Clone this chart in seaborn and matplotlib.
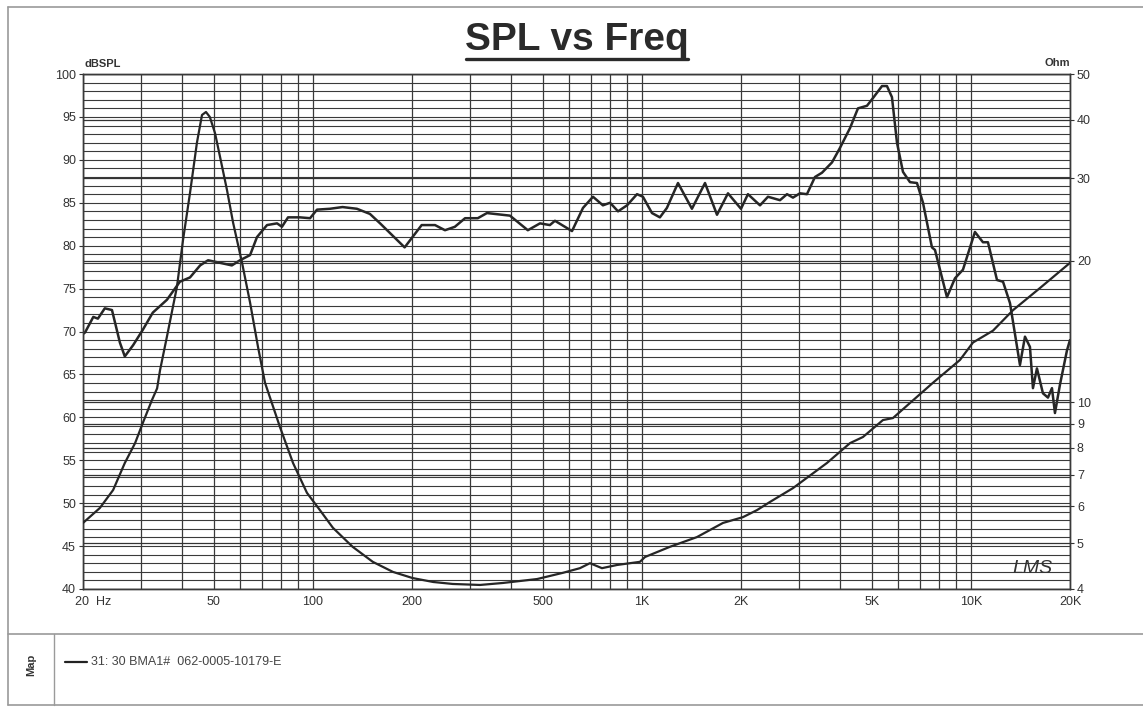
import numpy as np
import pandas as pd
import matplotlib
matplotlib.use("Agg")
import matplotlib.pyplot as plt
import matplotlib.transforms as mtransforms
from matplotlib.ticker import FixedLocator, NullLocator
from matplotlib.lines import Line2D
import seaborn as sns

# SPL curve (Hz, dB)
spl_freq = [20, 20.3, 21.5, 22.2, 23.3, 24.5, 25.9, 26.8, 28.4, 30.4, 32.6, 36.0, 39.4, 42.3,
            45.4, 48.0, 52.2, 56.7, 60, 64.4, 67.6, 72.5, 77.8, 80.5, 84, 91.3, 98, 102.9,
            112.7, 123, 136, 149, 160, 190, 214, 235, 252, 270, 290, 317, 338, 397, 450,
            490, 525, 544, 613, 662, 710, 761, 800, 846, 901, 966, 1007, 1073, 1134, 1191,
            1287, 1419, 1555, 1691, 1826, 2000, 2100, 2285, 2416, 2628, 2760, 2878, 3022,
            3174, 3357, 3526, 3782, 4000, 4290, 4536, 4831, 5038, 5367, 5556, 5754, 5960,
            6215, 6528, 6855, 7150, 7613, 7776, 8456, 8944, 9457, 10285, 10878, 11266,
            12002, 12518, 13146, 14094, 14598, 15116, 15436, 15874, 16554, 17144, 17632,
            18006, 18646, 19586, 20000]
spl_db = [69.7, 69.9, 71.7, 71.5, 72.7, 72.5, 68.7, 67.1, 68.4, 70.2, 72.2, 73.7, 75.8, 76.3,
          77.7, 78.3, 78.0, 77.7, 78.3, 78.9, 81.0, 82.4, 82.6, 82.2, 83.3, 83.3, 83.2, 84.2,
          84.3, 84.5, 84.3, 83.7, 82.6, 79.8, 82.4, 82.4, 81.8, 82.2, 83.2, 83.2, 83.8,
          83.5, 81.8, 82.6, 82.4, 82.9, 81.7, 84.4, 85.7, 84.7, 85.0, 84.0, 84.7, 86.0,
          85.7, 83.8, 83.3, 84.4, 87.3, 84.3, 87.3, 83.6, 86.1, 84.3, 86.0, 84.7, 85.7,
          85.3, 86.0, 85.6, 86.1, 86.0, 88.0, 88.5, 89.7, 91.4, 93.7, 96.0, 96.3, 97.2,
          98.6, 98.6, 97.3, 92.0, 88.6, 87.4, 87.3, 85.0, 79.8, 79.5, 74.0, 76.2, 77.2,
          81.6, 80.4, 80.4, 76.0, 75.8, 73.3, 66.1, 69.4, 68.2, 63.4, 65.7, 62.8, 62.3,
          63.4, 60.5, 63.8, 67.8, 69.0]

# impedance curve (Hz, Ohm)
imp_freq = [20, 22.5, 24.7, 26.8, 28.8, 30.4, 32.4, 33.6, 34.3, 36.0, 38.6, 40.3, 42.3, 44.4,
            46.0, 47.3, 48.6, 50.4, 52.2, 54.8, 57.2, 60.9, 64.4, 68.1, 71.5, 79.4, 87.0,
            95.9, 105, 115, 132, 152, 175, 201, 232, 266, 322, 378, 480, 575, 648, 695,
            756, 840, 986, 1022, 1217, 1470, 1763, 2028, 2238, 2450, 2878, 3650, 4290,
            4698, 5402, 5794, 6528, 7668, 9262, 10146, 11668, 13422, 16208, 20000]
imp_ohm = [5.53, 5.95, 6.50, 7.42, 8.18, 9.03, 10.1, 10.7, 11.7, 13.8, 17.6, 22.2, 27.9, 35.7,
           40.9, 41.5, 40.5, 37.4, 33.3, 28.3, 24.1, 19.8, 16.3, 13.1, 11.0, 8.85, 7.42,
           6.41, 5.89, 5.40, 4.92, 4.57, 4.35, 4.22, 4.14, 4.10, 4.08, 4.12, 4.20, 4.33,
           4.43, 4.54, 4.43, 4.50, 4.57, 4.68, 4.92, 5.16, 5.53, 5.69, 5.89, 6.13, 6.56,
           7.42, 8.18, 8.43, 9.16, 9.25, 9.96, 11.0, 12.3, 13.4, 14.2, 15.7, 17.5, 19.8]

x_ticks = [20, 50, 100, 200, 500, 1000, 2000, 5000, 10000, 20000]
x_labels = ["20  Hz", "50", "100", "200", "500", "1K", "2K", "5K", "10K", "20K"]
ohm_ticks = [4, 5, 6, 7, 8, 9, 10, 20, 30, 40, 50]

spl = pd.DataFrame({"freq": spl_freq, "db": spl_db})
imp = pd.DataFrame({"freq": imp_freq, "ohm": imp_ohm})

sns.set_style("white")
plt.rcParams["font.family"] = ["Liberation Sans", "DejaVu Sans"]

fig = plt.figure(figsize=(11.43, 7.11), dpi=100)
ax = fig.add_axes([0.0726, 0.1716, 0.8635, 0.7243])
ax2 = ax.twinx()

grid_c = "#3a3a3a"
line_c = "#262626"

# log frequency grid
vgrid = [m * 10 ** d for d in range(1, 5) for m in range(1, 10)]
vgrid = [v for v in vgrid if 20 <= v <= 20000]
for v in vgrid:
    ax.axvline(v, color=grid_c, lw=0.9, zorder=0)
# dB grid every 1 dB
for h in range(40, 101):
    ax.axhline(h, color=grid_c, lw=0.8, zorder=0)
# ohm grid
for o in ohm_ticks:
    ax2.axhline(o, color="#333333", lw=0.9, zorder=0)

sns.lineplot(data=spl, x="freq", y="db", ax=ax, color=line_c, lw=1.8, zorder=3)
sns.lineplot(data=imp, x="freq", y="ohm", ax=ax2, color=line_c, lw=1.6, zorder=3)

ax.set_xscale("log")
ax.set_xlim(20, 20000)
ax.set_ylim(40, 100)
ax.xaxis.set_major_locator(FixedLocator(x_ticks))
ax.xaxis.set_minor_locator(NullLocator())
ax.set_xticklabels(x_labels)
ax.set_yticks(range(40, 101, 5))
ax.set_xlabel("")
ax.set_ylabel("")

ax2.set_yscale("log")
ax2.set_ylim(4, 50)
ax2.yaxis.set_major_locator(FixedLocator(ohm_ticks))
ax2.yaxis.set_minor_locator(NullLocator())
ax2.set_yticklabels([str(o) for o in ohm_ticks])
ax2.set_ylabel("")

for a in (ax, ax2):
    for s in a.spines.values():
        s.set_color(grid_c)
        s.set_linewidth(1.0)
ax.tick_params(axis="both", length=3, width=0.8, colors="#333333", labelsize=9, pad=2)
ax2.tick_params(axis="y", length=3, width=0.8, colors="#333333", labelsize=9, pad=2)

# first x label starts at the left edge
first = ax.get_xticklabels()[0]
first.set_horizontalalignment("left")
first.set_transform(first.get_transform() +
                    mtransforms.ScaledTranslation(-6 / 72, 0, fig.dpi_scale_trans))

# titles and labels
fig.text(0.505, 0.944, "SPL vs Freq", ha="center", va="center", fontsize=28,
         fontweight="bold", color="#2a2a2a")
fig.add_artist(Line2D([0.408, 0.602], [0.917, 0.917], color="#2a2a2a", lw=2.4))
fig.text(0.0735, 0.903, "dBSPL", ha="left", va="bottom", fontsize=8,
         fontweight="bold", color="#333333")
fig.text(0.936, 0.905, "Ohm", ha="right", va="bottom", fontsize=8,
         fontweight="bold", color="#333333")
fig.text(0.903, 0.2, "LMS", ha="center", va="center", fontsize=14, style="italic",
         color="#333333")

# outer frame and map box
frame_c = "#9a9a9a"
fig.add_artist(Line2D([0.007, 1.0], [0.990, 0.990], color=frame_c, lw=1.2))
fig.add_artist(Line2D([0.007, 0.007], [0.990, 0.008], color=frame_c, lw=1.2))
fig.add_artist(Line2D([0.007, 1.0], [0.109, 0.109], color=frame_c, lw=1.2))
fig.add_artist(Line2D([0.007, 1.0], [0.008, 0.008], color=frame_c, lw=1.2))
fig.add_artist(Line2D([0.047, 0.047], [0.109, 0.008], color=frame_c, lw=1.0))
fig.text(0.027, 0.065, "Map", rotation=90, ha="center", va="center", fontsize=8,
         fontweight="bold", color="#333333")
fig.add_artist(Line2D([0.057, 0.076], [0.069, 0.069], color="#222222", lw=1.6))
fig.text(0.080, 0.069, "31: 30 BMA1#  062-0005-10179-E", ha="left", va="center",
         fontsize=9, color="#444444")

plt.savefig("out.png", dpi=100)
